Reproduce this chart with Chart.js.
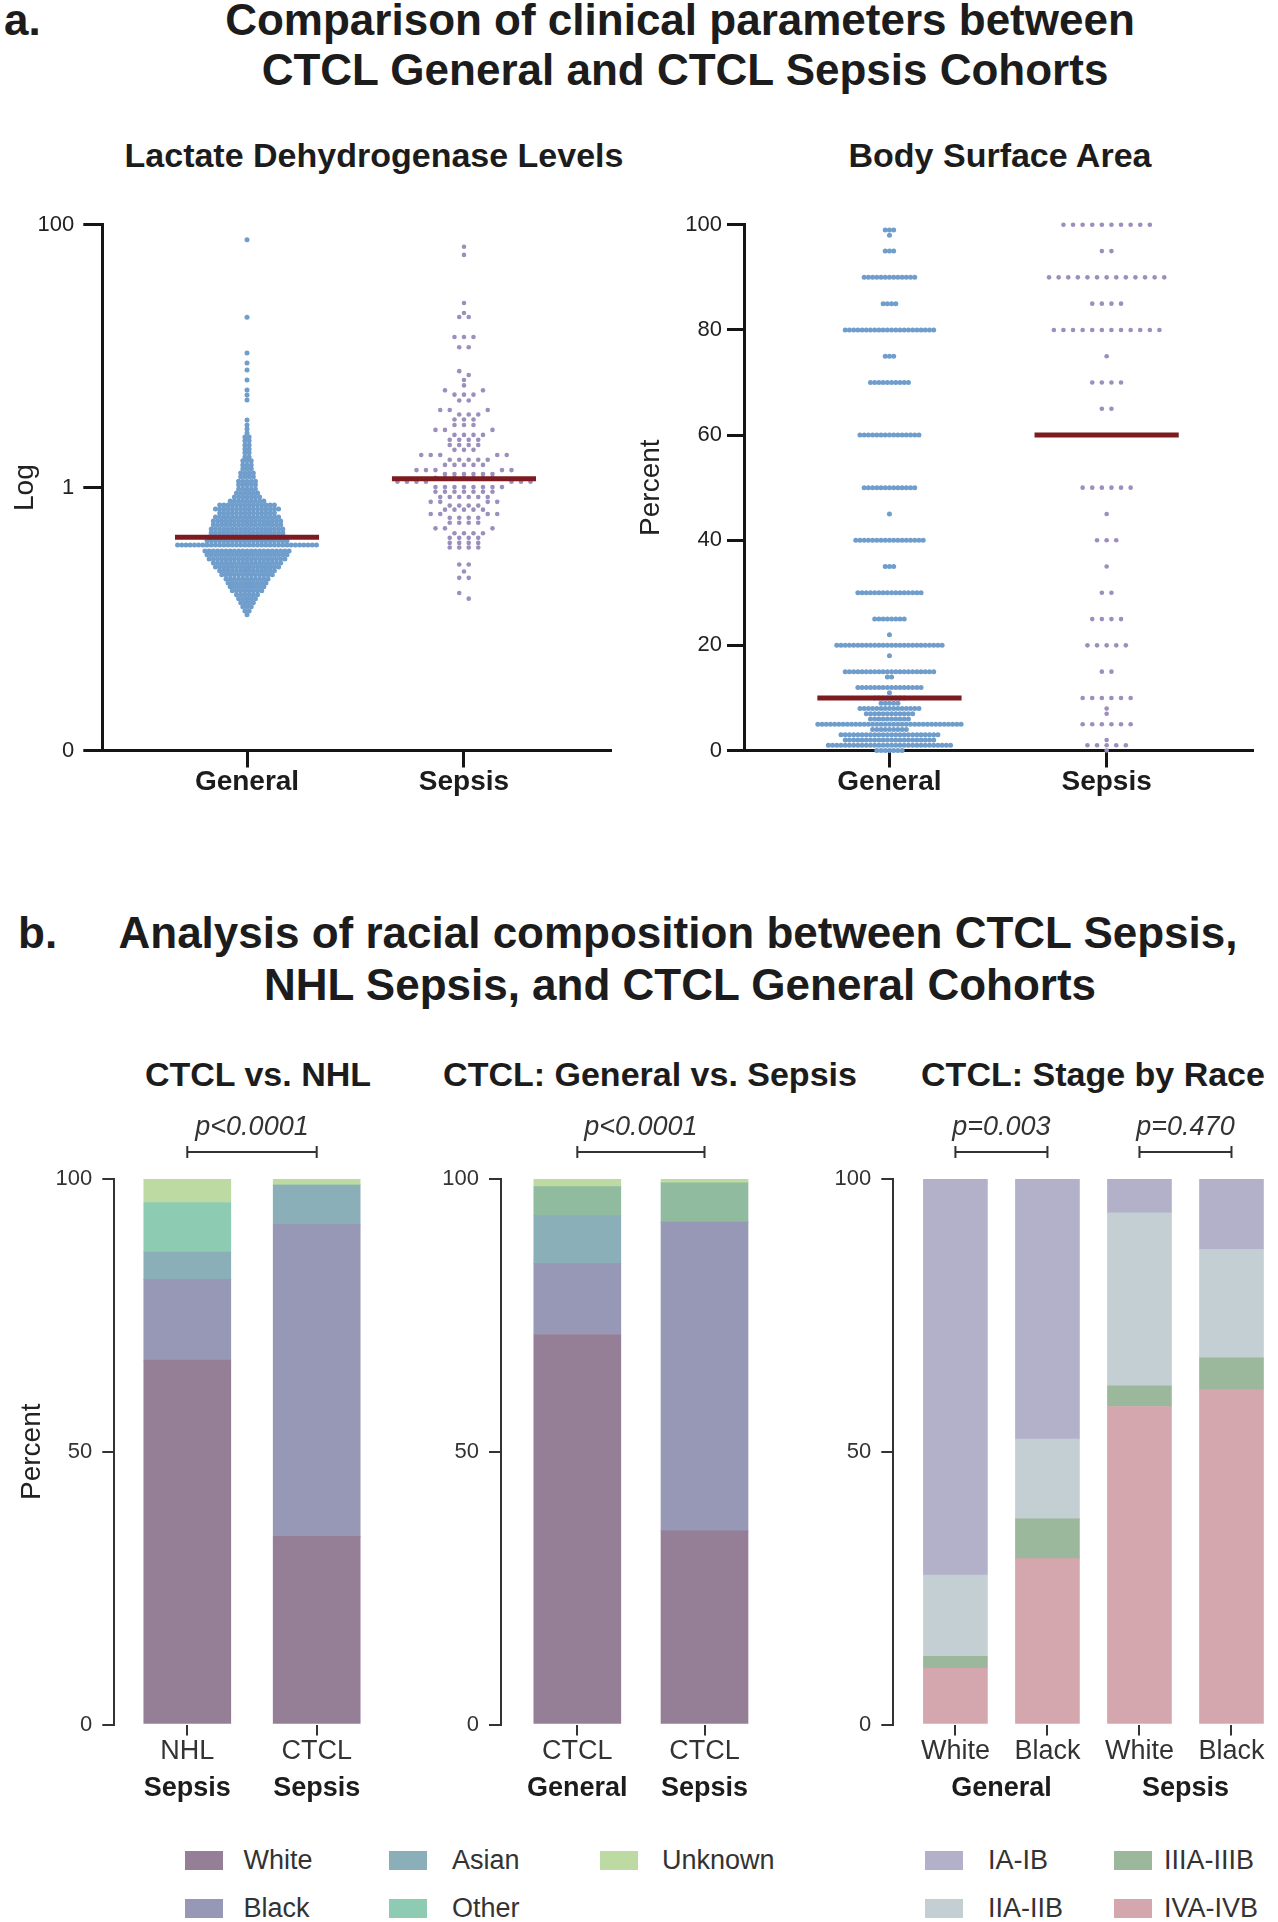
<!DOCTYPE html>
<html>
<head>
<meta charset="utf-8">
<script src="https://cdn.jsdelivr.net/npm/chart.js@4.4.1/dist/chart.umd.min.js"></script>
<style>
  body { margin: 0; background: #fff; }
  #page { position: relative; width: 1278px; height: 1922px; overflow: hidden;
          font-family: "Liberation Sans", Arial, sans-serif; color: #1c1c1c; background: #fff; }
  .t { position: absolute; white-space: nowrap; line-height: 1; font-weight: bold; }
  .c { transform: translateX(-50%); }
  canvas { position: absolute; }
  .sw { position: absolute; width: 38px; height: 19px; }
  .lt { position: absolute; font-size: 27px; line-height: 1; color: #333; white-space: nowrap; }
</style>
</head>
<body>
<div id="page">
  <div class="t" style="left:4px;top:-2px;font-size:44px">a.</div>
  <div class="t c" style="left:680px;top:-2px;font-size:44px">Comparison of clinical parameters between</div>
  <div class="t c" style="left:685px;top:48px;font-size:44px">CTCL General and CTCL Sepsis Cohorts</div>
  <div class="t c" style="left:374px;top:138px;font-size:34px">Lactate Dehydrogenase Levels</div>
  <div class="t c" style="left:1000px;top:138px;font-size:34px">Body Surface Area</div>

  <div class="t" style="left:18px;top:911px;font-size:44px">b.</div>
  <div class="t c" style="left:678px;top:911px;font-size:44px">Analysis of racial composition between CTCL Sepsis,</div>
  <div class="t c" style="left:680px;top:963px;font-size:44px">NHL Sepsis, and CTCL General Cohorts</div>
  <div class="t c" style="left:258px;top:1057px;font-size:34px">CTCL vs. NHL</div>
  <div class="t c" style="left:650px;top:1057px;font-size:34px">CTCL: General vs. Sepsis</div>
  <div class="t c" style="left:1093px;top:1057px;font-size:34px">CTCL: Stage by Race</div>

  <canvas id="ldh" width="640" height="620" style="left:0;top:190px"></canvas>
  <canvas id="bsa" width="648" height="620" style="left:630px;top:190px"></canvas>
  <canvas id="vsNhl" width="400" height="770" style="left:0;top:1040px"></canvas>
  <canvas id="genSep" width="440" height="770" style="left:400px;top:1040px"></canvas>
  <canvas id="stage" width="448" height="770" style="left:830px;top:1040px"></canvas>
  <div id="legend"></div>
</div>
<script>
// ---------- panel a data ----------
const groups = ['General', 'Sepsis'];

// LDH, log scale: row values and how many dots sit on each row
const ldhGenVals = [0.108, 0.115, 0.124, 0.133, 0.143, 0.153, 0.164, 0.176, 0.188, 0.202,
  0.217, 0.233, 0.249, 0.267, 0.287, 0.308, 0.330, 0.366, 0.394, 0.422,
  0.453, 0.485, 0.521, 0.558, 0.598, 0.642, 0.689, 0.739, 0.793, 0.850,
  0.912, 0.978, 1.05, 1.12, 1.21, 1.29, 1.39, 1.49, 1.60, 1.71,
  1.84, 1.97, 2.11, 2.27, 2.43, 2.61, 2.80, 3.0, 3.27, 4.64,
  5.07, 5.53, 6.59, 7.85, 8.87, 10.6, 19.8, 77];
const ldhGenCounts = [1, 2, 3, 4, 5, 6, 8, 9, 10, 11,
  13, 14, 16, 17, 19, 20, 21, 34, 20, 19,
  18, 18, 17, 17, 16, 14, 16, 14, 9, 7,
  6, 5, 5, 5, 4, 4, 3, 3, 3, 2,
  2, 2, 2, 2, 2, 1, 1, 1, 1, 1,
  1, 1, 1, 1, 1, 1, 1, 1];
const ldhSepVals = [68, 59, 25.4, 21.3, 19.9, 14.0, 11.7, 7.7, 7.2, 6.6,
  6.0, 5.5, 5.1, 4.6, 3.9, 3.6, 3.3, 3.0, 2.75, 2.52,
  2.31, 2.11, 1.94, 1.77, 1.63, 1.49, 1.36, 1.27, 1.19, 1.11,
  1.01, 0.93, 0.85, 0.78, 0.73, 0.68, 0.63, 0.59, 0.54, 0.49,
  0.45, 0.415, 0.38, 0.35, 0.26, 0.23, 0.206, 0.158, 0.143];
const ldhSepCounts = [1, 1, 1, 1, 2, 3, 2, 1, 1, 1,
  1, 2, 3, 2, 3, 3, 3, 3, 3, 4,
  4, 4, 3, 5, 5, 5, 5, 6, 7, 7,
  8, 7, 6, 4, 4, 5, 4, 4, 4, 3,
  4, 4, 4, 4, 2, 1, 2, 1, 1];
const ldhMedians = [0.42, 1.17];
const ldhTicks = [0.01, 1, 100];

// Body surface area (%)
const bsaGenVals = [99, 98, 95, 90, 85, 80, 75, 70, 60, 50, 45, 40, 35, 30, 25, 22, 20, 18, 15, 14,
  12, 11, 10, 9, 8, 7, 6, 5, 4, 3, 2, 1, 0];
const bsaGenCounts = [3, 1, 3, 13, 4, 22, 3, 10, 15, 13, 1, 17, 3, 16, 8, 1, 26, 1, 22, 2,
  16, 1, 8, 5, 15, 12, 10, 35, 9, 24, 22, 30, 7];
const bsaSepVals = [100, 95, 90, 85, 80, 75, 70, 65, 50, 45, 40, 35, 30, 25, 20, 15, 10, 8, 7, 5, 2, 1, 0];
const bsaSepCounts = [10, 2, 13, 4, 12, 1, 4, 2, 6, 1, 3, 1, 2, 4, 5, 2, 6, 1, 1, 6, 1, 5, 1];
const bsaMedians = [10, 60];

// ---------- panel b data ----------
const raceNames = ['White', 'Black', 'Asian', 'Other', 'Unknown'];
const raceColors = ['#957f97', '#9698b6', '#8aafb8', '#8ecbb3', '#bddaa2'];

const vsNhlTicks = ['NHL', 'CTCL'];
const vsNhlGroups = ['Sepsis', 'Sepsis'];
const vsNhlWhite = [66.8, 34.5];
const vsNhlBlack = [14.8, 57.2];
const vsNhlAsian = [5.0, 7.2];
const vsNhlOther = [9.1, 0];
const vsNhlUnknown = [4.3, 1.1];

const genSepTicks = ['CTCL', 'CTCL'];
const genSepGroups = ['General', 'Sepsis'];
const genSepWhite = [71.5, 35.5];
const genSepBlack = [13.0, 56.6];
const genSepAsian = [8.8, 0];
const genSepOther = [5.3, 7.2];
const genSepUnknown = [1.4, 0.7];

const stageNames = ['IVA-IVB', 'IIIA-IIIB', 'IIA-IIB', 'IA-IB'];
const stageColors = ['#d4a7ae', '#9bb89c', '#c3cfd2', '#b3b1c9'];
const stageTicks = ['White', 'Black', 'White', 'Black'];
const stageGroups = ['General', 'Sepsis'];
const stageIV = [10.3, 30.4, 58.3, 61.4];
const stageIII = [2.2, 7.3, 3.8, 5.8];
const stageII = [14.9, 14.6, 31.7, 19.9];
const stageI = [72.6, 47.7, 6.2, 12.9];

const pVsNhl = ['p<0.0001'];
const pGenSep = ['p<0.0001'];
const pStage = ['p=0.003', 'p=0.470'];

// ---------- helpers ----------
const FONT = '"Liberation Sans", Arial, sans-serif';
Chart.defaults.font.family = FONT;

// one row per value, dots centred on the group
function swarm(vals, counts, center, step) {
  const pts = [];
  vals.forEach((v, i) => {
    const n = counts[i];
    for (let k = 0; k < n; k++) pts.push({ x: center + (k - (n - 1) / 2) * step, y: v });
  });
  return pts;
}

// prism-like layout: dots grouped in bins (log units) and spread over columns
function swarmBinned(vals, counts, center, step, bin) {
  const bins = new Map();
  vals.forEach((v, i) => {
    const b = Math.floor(Math.log10(v) / bin);
    if (!bins.has(b)) bins.set(b, []);
    for (let k = 0; k < counts[i]; k++) bins.get(b).push(v);
  });
  const pts = [];
  bins.forEach(list => {
    const n = list.length;
    list.forEach((v, k) => {
      const slot = k % 2 === 0 ? k / 2 : n - 1 - (k - 1) / 2;
      pts.push({ x: center + (slot - (n - 1) / 2) * step, y: v });
    });
  });
  return pts;
}

function medianLine(v, center) {
  return [{ x: center - 0.332, y: v }, { x: center + 0.332, y: v }];
}

function dotChart(id, yScale, genVals, genCounts, sepVals, sepCounts, medians, sepStep, sepBin, padRight) {
  const line = (i) => ({ type: 'line', data: medianLine(medians[i], i + 1), borderColor: '#7c1b20',
    borderWidth: 5, pointRadius: 0, showLine: true, order: 0 });
  const sepPts = sepBin ? swarmBinned(sepVals, sepCounts, 2, sepStep, sepBin)
                        : swarm(sepVals, sepCounts, 2, sepStep);
  new Chart(document.getElementById(id), {
    type: 'scatter',
    data: {
      datasets: [
        line(0), line(1),
        { data: swarm(genVals, genCounts, 1, 0.0194), backgroundColor: '#6f9dcc', pointRadius: 2.5,
          borderWidth: 0, order: 1, clip: 10 },
        { data: sepPts, backgroundColor: '#9c8ebd', pointRadius: 2.3,
          borderWidth: 0, order: 1, clip: 10 }
      ]
    },
    options: {
      responsive: false, animation: false, devicePixelRatio: 1,
      layout: { padding: { top: 34.8, right: padRight, bottom: 0, left: 0 } },
      plugins: { legend: { display: false }, tooltip: { enabled: false } },
      scales: {
        x: {
          type: 'linear', min: 0.333, max: 2.673, offset: false,
          afterBuildTicks: s => { s.ticks = [1, 2].map(v => ({ value: v })); },
          afterFit: s => { s.height = 59.5; },
          ticks: { callback: v => groups[v - 1], font: { size: 28, weight: 'bold', lineHeight: 1 },
                   color: '#1c1c1c', padding: 1, autoSkip: false, maxRotation: 0 },
          grid: { drawOnChartArea: false, tickLength: 17, color: '#151515', lineWidth: 3, offset: false },
          border: { color: '#151515', width: 3 }
        },
        y: yScale
      }
    }
  });
}

// ---------- panel a ----------
dotChart('ldh', {
  type: 'logarithmic', min: 0.01, max: 100,
  afterBuildTicks: s => { s.ticks = ldhTicks.map(v => ({ value: v })); },
  afterFit: s => { s.width = 102.3; },
  ticks: { callback: v => (v === 0.01 ? '0' : String(v)), font: { size: 22 }, color: '#222', padding: 9 },
  grid: { drawOnChartArea: false, tickLength: 19, color: '#151515', lineWidth: 3 },
  border: { color: '#151515', width: 3 },
  title: { display: true, text: 'Log', font: { size: 28 }, color: '#222', padding: { top: 8 } }
}, ldhGenVals, ldhGenCounts, ldhSepVals, ldhSepCounts, ldhMedians, 0.0438, 0.05, 30);

dotChart('bsa', {
  type: 'linear', min: 0, max: 100,
  ticks: { stepSize: 20, font: { size: 22 }, color: '#222', padding: 5 },
  afterFit: s => { s.width = 114.6; },
  grid: { drawOnChartArea: false, tickLength: 17.6, color: '#151515', lineWidth: 3 },
  border: { color: '#151515', width: 3 },
  title: { display: true, text: 'Percent', font: { size: 28 }, color: '#222', padding: { top: 4.7 } }
}, bsaGenVals, bsaGenCounts, bsaSepVals, bsaSepCounts, bsaMedians, 0.0442, 0, 25.2);

// ---------- panel b ----------
const annotate = {
  id: 'annotate',
  afterDraw(chart, args, opts) {
    const { ctx, chartArea, scales: { x } } = chart;
    ctx.save();
    ctx.strokeStyle = '#333';
    ctx.fillStyle = '#333';
    ctx.lineWidth = 2;
    ctx.textAlign = 'center';
    ctx.textBaseline = 'alphabetic';
    (opts.brackets || []).forEach(b => {
      const x1 = x.getPixelForValue(b.from), x2 = x.getPixelForValue(b.to), y = chartArea.top - 27;
      ctx.beginPath();
      ctx.moveTo(x1, y); ctx.lineTo(x2, y);
      ctx.moveTo(x1, y - 6); ctx.lineTo(x1, y + 6);
      ctx.moveTo(x2, y - 6); ctx.lineTo(x2, y + 6);
      ctx.stroke();
      ctx.font = 'italic 27px ' + FONT;
      ctx.fillText(b.text, (x1 + x2) / 2, y - 17);
    });
    ctx.fillStyle = '#1c1c1c';
    ctx.font = 'bold 27px ' + FONT;
    (opts.groups || []).forEach(g => {
      ctx.fillText(g.text, x.getPixelForValue(g.at), chartArea.bottom + 71.5);
    });
    ctx.restore();
  }
};

function barChart(id, o) {
  const xs = o.ticks.map((_, i) => i + 1);
  new Chart(document.getElementById(id), {
    type: 'bar',
    data: {
      datasets: o.series.map((s, k) => ({
        label: o.names[k],
        data: s.map((v, i) => ({ x: xs[i], y: v })),
        backgroundColor: o.colors[k],
        borderWidth: 0,
        barThickness: o.barW,
        stack: 's'
      }))
    },
    plugins: [annotate],
    options: {
      responsive: false, animation: false, devicePixelRatio: 1,
      layout: { padding: { top: 139, right: o.padRight, bottom: 0, left: 0 } },
      plugins: {
        legend: { display: false }, tooltip: { enabled: false },
        annotate: { brackets: o.brackets, groups: o.groups }
      },
      scales: {
        x: {
          type: 'linear', min: o.xMin, max: o.xMax, offset: false,
          afterBuildTicks: s => { s.ticks = xs.map(v => ({ value: v })); },
          afterFit: s => { s.height = 85.5; },
          ticks: { callback: v => o.ticks[v - 1], font: { size: 27, lineHeight: 1.2 }, color: '#333',
                   padding: 0, autoSkip: false, maxRotation: 0 },
          grid: { drawOnChartArea: false, tickLength: 11, color: '#333', lineWidth: 2, offset: false },
          border: { display: false }
        },
        y: {
          stacked: true, min: 0, max: 100,
          afterFit: s => { s.width = o.yW; },
          ticks: { stepSize: 50, font: { size: 22 }, color: '#333', padding: 10 },
          grid: { drawOnChartArea: false, tickLength: 12, color: '#333', lineWidth: 2 },
          border: { color: '#333', width: 2 },
          title: o.yTitle
            ? { display: true, text: 'Percent', font: { size: 28 }, color: '#222', padding: { top: 15 } }
            : { display: false }
        }
      }
    }
  });
}

barChart('vsNhl', {
  ticks: vsNhlTicks, names: raceNames, colors: raceColors,
  series: [vsNhlWhite, vsNhlBlack, vsNhlAsian, vsNhlOther, vsNhlUnknown],
  barW: 87, xMin: 0.436, xMax: 2.5, yW: 114.3, padRight: 18.6, yTitle: true,
  brackets: [{ from: 1, to: 2, text: pVsNhl[0] }],
  groups: vsNhlGroups.map((t, i) => ({ at: i + 1, text: t }))
});

barChart('genSep', {
  ticks: genSepTicks, names: raceNames,
  colors: [raceColors[0], raceColors[1], raceColors[2], '#90bb9f', raceColors[4]],
  series: [genSepWhite, genSepBlack, genSepAsian, genSepOther, genSepUnknown],
  barW: 87, xMin: 0.40, xMax: 2.5, yW: 101, padRight: 71.9, yTitle: false,
  brackets: [{ from: 1, to: 2, text: pGenSep[0] }],
  groups: genSepGroups.map((t, i) => ({ at: i + 1, text: t }))
});

barChart('stage', {
  ticks: stageTicks, names: stageNames, colors: stageColors,
  series: [stageIV, stageIII, stageII, stageI],
  barW: 64, xMin: 0.325, xMax: 4.5, yW: 63.3, padRight: 0.5, yTitle: false,
  brackets: [{ from: 1, to: 2, text: pStage[0] }, { from: 3, to: 4, text: pStage[1] }],
  groups: stageGroups.map((t, i) => ({ at: 1.5 + 2 * i, text: t }))
});

// ---------- legends ----------
const legendItems = [
  { name: raceNames[0], color: raceColors[0], sx: 184.5, tx: 243.5, cy: 1860 },
  { name: raceNames[2], color: raceColors[2], sx: 389, tx: 452, cy: 1860 },
  { name: raceNames[4], color: raceColors[4], sx: 600, tx: 662, cy: 1860 },
  { name: raceNames[1], color: raceColors[1], sx: 184.5, tx: 243.5, cy: 1908 },
  { name: raceNames[3], color: raceColors[3], sx: 389, tx: 452, cy: 1908 },
  { name: stageNames[3], color: stageColors[3], sx: 925, tx: 988, cy: 1860 },
  { name: stageNames[1], color: stageColors[1], sx: 1114, tx: 1164, cy: 1860 },
  { name: stageNames[2], color: stageColors[2], sx: 925, tx: 988, cy: 1908 },
  { name: stageNames[0], color: stageColors[0], sx: 1114, tx: 1164, cy: 1908 }
];
const legend = document.getElementById('legend');
legendItems.forEach(it => {
  const sw = document.createElement('div');
  sw.className = 'sw';
  sw.style.left = it.sx + 'px';
  sw.style.top = (it.cy - 9.5) + 'px';
  sw.style.background = it.color;
  legend.appendChild(sw);
  const tx = document.createElement('div');
  tx.className = 'lt';
  tx.style.left = it.tx + 'px';
  tx.style.top = (it.cy - 13) + 'px';
  tx.textContent = it.name;
  legend.appendChild(tx);
});
</script>
</body>
</html>
